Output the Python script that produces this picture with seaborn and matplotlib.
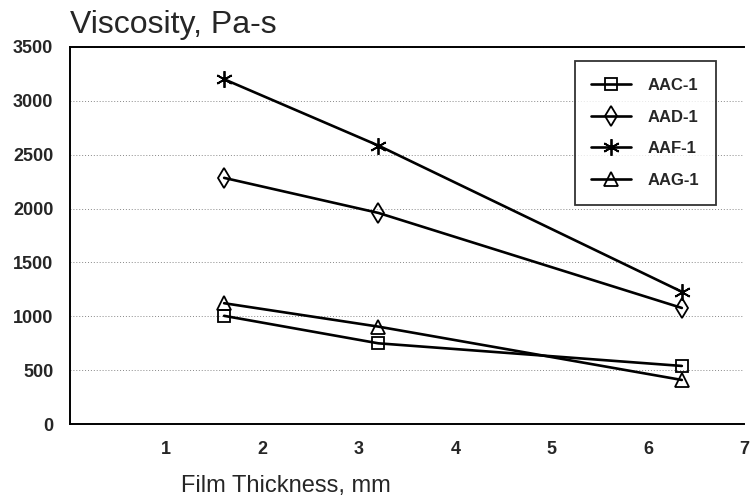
import pandas as pd
import seaborn as sns
import matplotlib.pyplot as plt

# data
thickness = [1.6, 3.2, 6.35]
aac = [1005, 750, 540]
aad = [2285, 1960, 1078]
aaf = [3200, 2585, 1228]
aag = [1122, 905, 410]

names = ["AAC-1", "AAD-1", "AAF-1", "AAG-1"]
markers = ["s", "d", (6, 2, 0), "^"]
msizes = [9, 10, 12, 10]

df = pd.DataFrame({
    "x": thickness * 4,
    "y": aac + aad + aaf + aag,
    "name": [n for n in names for _ in thickness],
})

sns.set_style("white")
plt.rcParams['font.family'] = ['Liberation Sans', 'DejaVu Sans']

fig = plt.figure(figsize=(7.52, 4.99), dpi=100)
ax = fig.add_axes([0.093, 0.150, 0.897, 0.756])

for name, mk, ms in zip(names, markers, msizes):
    sub = df[df["name"] == name]
    sns.lineplot(data=sub, x="x", y="y", ax=ax, color="black", linewidth=1.9,
                 marker=mk, markersize=ms, markerfacecolor="none",
                 markeredgecolor="black", markeredgewidth=1.3, label=name)

ax.set_xlim(0, 7)
ax.set_ylim(0, 3500)
ax.set_xticks(range(1, 8))
ax.set_yticks(range(0, 3501, 500))
ax.tick_params(axis="x", direction="in", length=5, width=1, labelsize=13, pad=12)
ax.tick_params(axis="y", length=0, labelsize=13, pad=12)
for lab in ax.get_xticklabels() + ax.get_yticklabels():
    lab.set_fontweight("bold")

ax.yaxis.grid(True, linestyle=(0, (1, 2)), color="#888888", linewidth=0.7)
ax.set_axisbelow(True)

for side in ["left", "bottom", "top"]:
    ax.spines[side].set_color("black")
    ax.spines[side].set_linewidth(1.4)
ax.spines["right"].set_visible(False)

ax.set_xlabel("Film Thickness, mm", fontsize=17)
ax.xaxis.set_label_coords(0.32, -0.135)
ax.set_ylabel("")
fig.text(0.093, 0.92, "Viscosity, Pa-s", fontsize=23, ha="left", va="bottom")

leg = ax.legend(loc="upper right", bbox_to_anchor=(0.958, 0.962), borderaxespad=0,
                frameon=True, fancybox=False, edgecolor="black", handlelength=2.4,
                labelspacing=1.0, borderpad=1.0, handletextpad=1.0,
                prop={"weight": "bold", "size": 12})
leg.get_frame().set_linewidth(1.3)

fig.savefig("out.png", dpi=100)
